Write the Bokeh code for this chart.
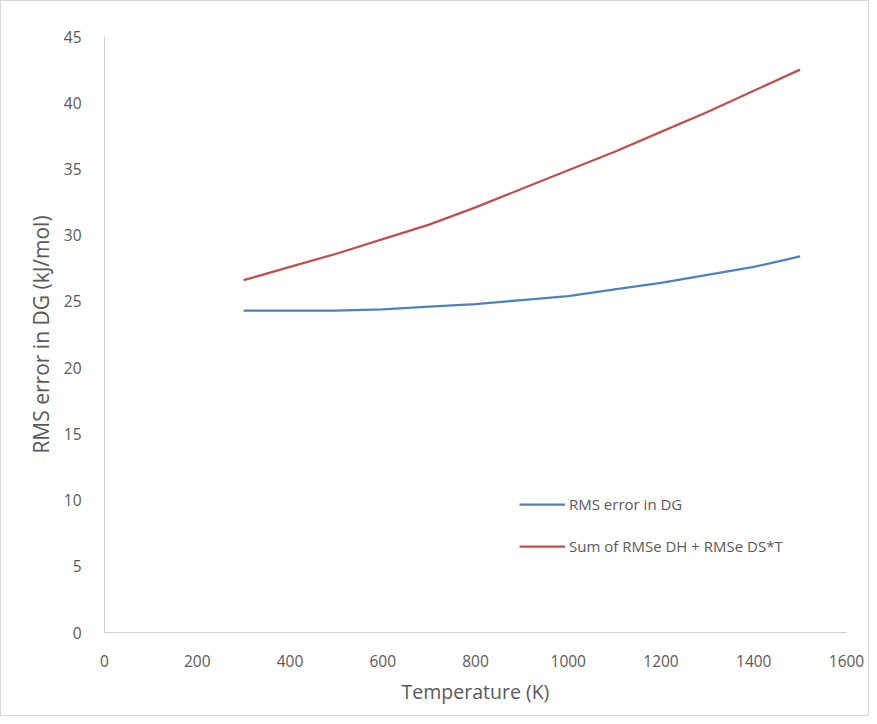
from bokeh.plotting import figure
from bokeh.models import Legend, LegendItem, FixedTicker, Range1d
from bokeh.embed import file_html
from bokeh.resources import INLINE

temperature = [300, 400, 500, 600, 700, 800, 900, 1000, 1100, 1200, 1300, 1400, 1500]
rms_dg = [24.3, 24.3, 24.3, 24.4, 24.6, 24.8, 25.1, 25.4, 25.9, 26.4, 27.0, 27.6, 28.4]
sum_rmse = [26.6, 27.6, 28.6, 29.7, 30.8, 32.1, 33.5, 34.9, 36.3, 37.8, 39.3, 40.9, 42.5]

x_ticks = [0, 200, 400, 600, 800, 1000, 1200, 1400, 1600]
y_ticks = [0, 5, 10, 15, 20, 25, 30, 35, 40, 45]

FONT = "Open Sans"
GRAY = "#595959"

p = figure(width=869, height=716, output_backend="svg", toolbar_location=None,
           x_range=Range1d(0, 1600), y_range=Range1d(0, 45),
           min_border_left=103, min_border_top=35, min_border_right=24, min_border_bottom=85)
p.outline_line_color = None
p.xgrid.grid_line_color = None
p.ygrid.grid_line_color = None
p.background_fill_color = "white"
p.border_fill_color = "white"

for ax in (p.xaxis[0], p.yaxis[0]):
    ax.axis_line_color = "#d0d0d0"
    ax.axis_line_width = 1
    ax.major_tick_line_color = None
    ax.minor_tick_line_color = None
    ax.major_label_text_font = FONT
    ax.major_label_text_color = GRAY
    ax.major_label_text_font_size = "15.5px"
    ax.axis_label_text_font = FONT
    ax.axis_label_text_color = GRAY
    ax.axis_label_text_font_style = "normal"

p.xaxis[0].axis_label_text_font_size = "19.5px"
p.yaxis[0].axis_label_text_font_size = "21px"
p.xaxis[0].ticker = FixedTicker(ticks=x_ticks)
p.yaxis[0].ticker = FixedTicker(ticks=y_ticks)
p.xaxis[0].axis_label = "Temperature (K)"
p.yaxis[0].axis_label = "RMS error in DG (kJ/mol)"
p.xaxis[0].major_label_standoff = 16
p.xaxis[0].axis_label_standoff = 8
p.yaxis[0].major_label_standoff = 17
p.yaxis[0].axis_label_standoff = 6

r1 = p.line(temperature, rms_dg, line_color="#4F81BD", line_width=2.25)
r2 = p.line(temperature, sum_rmse, line_color="#C0504D", line_width=2.25)

legend = Legend(items=[LegendItem(label="RMS error in DG", renderers=[r1]),
                       LegendItem(label="Sum of RMSe DH + RMSe DS*T", renderers=[r2])],
                location=(415, 75))
legend.border_line_color = None
legend.background_fill_alpha = 0
legend.padding = 0
legend.margin = 0
legend.glyph_width = 46
legend.glyph_height = 22
legend.label_height = 22
legend.spacing = 20
legend.label_standoff = 4
legend.label_text_font = FONT
legend.label_text_color = GRAY
legend.label_text_font_size = "15px"
p.add_layout(legend, "center")

p.styles = {"border": "1px solid #d9d9d9"}

open("out.html", "w").write(file_html(p, INLINE))
